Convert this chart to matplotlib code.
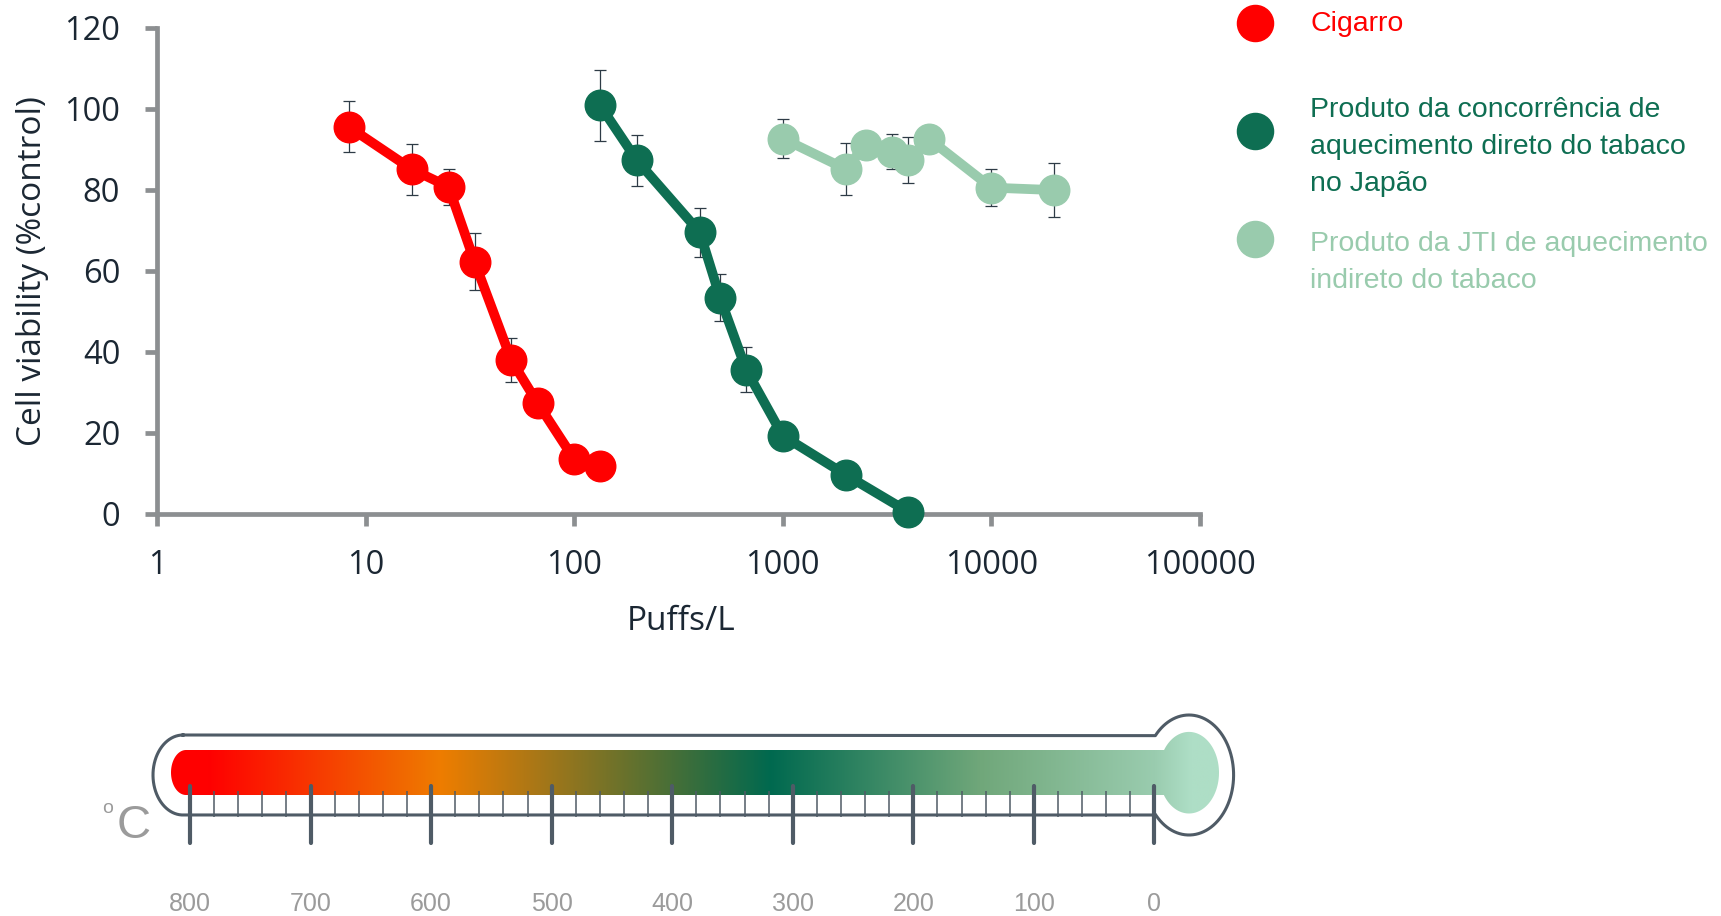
import numpy as np
import matplotlib
matplotlib.use("Agg")
import matplotlib.pyplot as plt
from matplotlib.patches import PathPatch
from matplotlib.path import Path

# ---------------- data ----------------
cig_x = [8.3, 16.7, 25, 33.3, 50, 66.7, 100, 133]
cig_y = [95.5, 85.0, 80.7, 62.2, 37.9, 27.4, 13.5, 11.8]
cig_err = [6.3, 6.2, 4.5, 7.0, 5.4, 0, 0, 0]

comp_x = [133, 200, 400, 500, 667, 1000, 2000, 4000]
comp_y = [100.8, 87.2, 69.5, 53.4, 35.6, 19.3, 9.7, 0.5]
comp_err = [8.7, 6.2, 6.0, 5.8, 5.5, 0, 0, 0]

jti_x = [1000, 2000, 2500, 3333, 4000, 5000, 10000, 20000]
jti_y = [92.6, 85.1, 91.1, 89.4, 87.3, 92.6, 80.5, 79.9]
jti_err = [4.9, 6.4, 0, 4.3, 5.6, 0, 4.6, 6.7]

series_labels = ["Cigarro",
                 "Produto da concorrência de\naquecimento direto do tabaco\nno Japão",
                 "Produto da JTI de aquecimento\nindireto do tabaco"]
series_colors = ["#FF0000", "#0E6E52", "#99CBAD"]

x_ticks = [1, 10, 100, 1000, 10000, 100000]
x_ticklabels = ["1", "10", "100", "1000", "10000", "100000"]
y_ticks = [0, 20, 40, 60, 80, 100, 120]

temp_major = [800, 700, 600, 500, 400, 300, 200, 100, 0]
temp_minor = [t for t in range(0, 801, 20) if t % 100 != 0]
# gradient colour stops along the temperature scale
grad_T = [830, 785, 592, 319, 145, 0, -30, -80]
grad_colors = ["#FF0000", "#FF0000", "#EE7D00", "#00694F", "#70A77A",
               "#9ACCAF", "#AEDEC6", "#AEDEC6"]

# ---------------- figure ----------------
W, H = 1721, 916
fig = plt.figure(figsize=(W / 100, H / 100), dpi=100)

AX_FONT = "Open Sans"
TXT_DARK = "#1B2733"
AXIS_GRAY = "#8C8F91"
OUTLINE = "#4F5B66"
LABEL_GRAY = "#9B9B9B"

# pixel overlay axes (decoration / legend)
pix = fig.add_axes([0, 0, 1, 1], zorder=0)
pix.set_xlim(0, W)
pix.set_ylim(H, 0)
pix.axis("off")

# temperature axes for the thermometer scale
px800, px0 = 190.0, 1154.4
ppd = (px0 - px800) / 800.0
tax = fig.add_axes([0, 0, 1, 1], zorder=1)
tax.set_xlim(800 + px800 / ppd, -(W - px0) / ppd)
tax.set_ylim(H, 0)
tax.patch.set_alpha(0)
tax.axis("off")

# ---------------- main chart ----------------
L, R, T, B = 157, 1200, 27.5, 514
ax = fig.add_axes([L / W, 1 - B / H, (R - L) / W, (B - T) / H], zorder=2)
ax.patch.set_alpha(0)
ax.set_xscale("log")
ax.set_xlim(1, 100000)
ax.set_ylim(0, 120)

for xs, ys, es, c in zip([cig_x, comp_x, jti_x], [cig_y, comp_y, jti_y],
                         [cig_err, comp_err, jti_err], series_colors):
    ax.errorbar(xs, ys, yerr=es, fmt="none", ecolor="#2E3B46",
                elinewidth=0.9, capsize=4.5, capthick=0.9, zorder=3)
    ax.plot(xs, ys, "-o", color=c, lw=7, ms=22, zorder=4, clip_on=False,
            solid_joinstyle="round", solid_capstyle="round")

for s in ["top", "right"]:
    ax.spines[s].set_visible(False)
for s in ["left", "bottom"]:
    ax.spines[s].set_color(AXIS_GRAY)
    ax.spines[s].set_linewidth(3.4)

ax.set_xticks(x_ticks)
ax.set_xticklabels(x_ticklabels)
ax.xaxis.set_minor_locator(matplotlib.ticker.NullLocator())
ax.set_yticks(y_ticks)
ax.tick_params(axis="both", which="major", direction="out", length=8.5,
               width=3.4, color=AXIS_GRAY, labelcolor=TXT_DARK,
               labelsize=23.5)
ax.tick_params(axis="x", pad=17)
ax.tick_params(axis="y", pad=18)
for lab in ax.get_xticklabels() + ax.get_yticklabels():
    lab.set_family(AX_FONT)

ax.set_ylabel("Cell viability (%control)", fontsize=24, family=AX_FONT,
              color=TXT_DARK, va="center")
ax.yaxis.set_label_coords((32.5 - L) / (R - L), 0.5)
ax.set_xlabel("Puffs/L", fontsize=24, family=AX_FONT, color=TXT_DARK,
              va="baseline")
ax.xaxis.set_label_coords((681 - L) / (R - L), (B - 630) / (B - T))

# ---------------- legend ----------------
leg_marker_y = [22.7, 131, 238.7]
leg_text_y = [30.7, 117.3, 250.7]
line_step = 37
for lab, c, my, ty in zip(series_labels, series_colors, leg_marker_y, leg_text_y):
    pix.plot([1255], [my], "o", color=c, ms=26, clip_on=False)
    for i, line in enumerate(lab.split("\n")):
        pix.text(1310, ty + i * line_step, line, color=c, fontsize=20.5,
                 family="Liberation Sans", va="baseline", ha="left")

# ---------------- thermometer ----------------
def arc(cx, cy, rx, ry, a0, a1, n=80):
    th = np.radians(np.linspace(a0, a1, n))
    return np.column_stack([cx + rx * np.cos(th), cy + ry * np.sin(th)])

# colour bar clip shape (pixel coords)
bar_top, bar_bot = 750, 795
pts = [np.array([[186, bar_bot], [1164, bar_bot]]),
       arc(1189, 772.7, 30, 40.8, 146.8, -146.2, 120),
       np.array([[1164, bar_top], [186, bar_top]]),
       arc(186, 772.5, 15, 22.5, -90, -270, 60)]
clip_poly = np.vstack(pts)
clip_patch = PathPatch(Path(np.vstack([clip_poly, clip_poly[:1]]), closed=True),
                       transform=pix.transData, facecolor="none", edgecolor="none")
pix.add_patch(clip_patch)

Tg = np.linspace(grad_T[0], grad_T[-1], 1200)
rgb_stops = np.array([matplotlib.colors.to_rgb(c) for c in grad_colors])
gT = np.array(grad_T)[::-1]
img = np.zeros((1, Tg.size, 3))
for ch in range(3):
    img[0, :, ch] = np.interp(Tg, gT, rgb_stops[::-1, ch])
im = tax.imshow(img, extent=(grad_T[0], grad_T[-1], 830, 700), aspect="auto",
                interpolation="bilinear", zorder=1)
im.set_clip_path(clip_patch)

# outline
left = arc(183, 775, 30, 40, 90, 270, 80)
outline = np.vstack([
    np.array([[183, 735], [1155.3, 735.6]]),
    arc(1189, 775, 44.6, 60, -139, 139, 160),
    np.array([[1154.4, 815], [183, 815]]),
    left,
])
pix.plot(outline[:, 0], outline[:, 1], color=OUTLINE, lw=2.2,
         solid_joinstyle="round", zorder=2)

# ticks
tax.vlines(temp_minor, 791, 817, color=OUTLINE, lw=1.1, zorder=3)
tax.vlines(temp_major, 786, 843, color=OUTLINE, lw=3.0, zorder=3,
           capstyle="round")
for t in temp_major:
    tax.text(t, 911, str(t), ha="center", va="baseline", fontsize=18,
             family="Liberation Sans", color=LABEL_GRAY)

pix.text(117, 838, "C", fontsize=34, family="Liberation Sans",
         color=LABEL_GRAY, va="baseline", ha="left")
pix.text(102, 813, "o", fontsize=14, family="Liberation Sans",
         color=LABEL_GRAY, va="baseline", ha="left")

fig.savefig("out.png", dpi=100)
